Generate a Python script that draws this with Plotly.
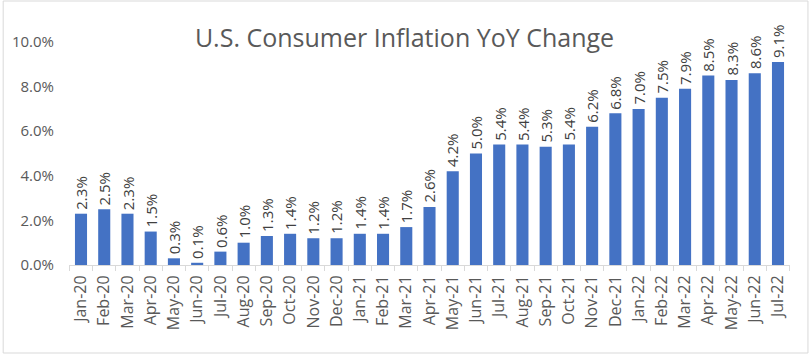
import plotly.graph_objects as go

months = ["Jan-20","Feb-20","Mar-20","Apr-20","May-20","Jun-20","Jul-20","Aug-20","Sep-20","Oct-20","Nov-20","Dec-20",
          "Jan-21","Feb-21","Mar-21","Apr-21","May-21","Jun-21","Jul-21","Aug-21","Sep-21","Oct-21","Nov-21","Dec-21",
          "Jan-22","Feb-22","Mar-22","Apr-22","May-22","Jun-22","Jul-22"]
inflation = [0.023,0.025,0.023,0.015,0.003,0.001,0.006,0.010,0.013,0.014,0.012,0.012,
             0.014,0.014,0.017,0.026,0.042,0.050,0.054,0.054,0.053,0.054,0.062,0.068,
             0.070,0.075,0.079,0.085,0.083,0.086,0.091]
title_text = "U.S. Consumer Inflation YoY Change"

W, H = 809, 354
ml, mr, mt, mb = 67, 19, 42, 89
FONT = "Open Sans, Noto Sans, sans-serif"

fig = go.Figure(go.Bar(
    x=months, y=inflation,
    marker=dict(color="#4472C4", line=dict(width=0)),
    hoverinfo="x+y",
))

for m, v in zip(months, inflation):
    fig.add_annotation(x=m, y=v, xref="x", yref="y", text=f"{v*100:.1f}%",
                       textangle=-90, showarrow=False, xanchor="center", yanchor="bottom",
                       yshift=2, font=dict(family=FONT, size=15, color="#404040"))

pw = W - ml - mr
ph = H - mt - mb
fig.add_shape(type="rect", xref="paper", yref="paper",
              x0=-(ml - 1) / pw, x1=1 + (mr - 1) / pw,
              y0=-(mb - 1) / ph, y1=1 + (mt - 1) / ph,
              line=dict(color="#d9d9d9", width=1), layer="below")

fig.update_layout(
    width=W, height=H,
    margin=dict(l=ml, r=mr, t=mt, b=mb, pad=0),
    paper_bgcolor="white", plot_bgcolor="white",
    bargap=0.48,
    showlegend=False,
    title=dict(text=title_text, x=0.5, xref="container", xanchor="center",
               y=1 - 38 / H, yref="container", yanchor="middle",
               font=dict(family=FONT, size=25, color="#595959")),
    font=dict(family=FONT, color="#595959"),
)
fig.update_xaxes(
    type="category", tickangle=-90,
    tickfont=dict(size=16, color="#595959"),
    showline=True, linecolor="#d9d9d9", linewidth=1,
    ticks="outside", tickson="boundaries", ticklen=5, tickcolor="#d9d9d9",
    showgrid=False, ticklabelstandoff=3,
)
fig.update_yaxes(
    range=[0, 0.10], dtick=0.02, tickformat=".1%",
    tickfont=dict(size=15, color="#595959"),
    showgrid=False, zeroline=False, showline=False,
    ticks="", ticklabelstandoff=14,
)

fig.write_html("out.html")
